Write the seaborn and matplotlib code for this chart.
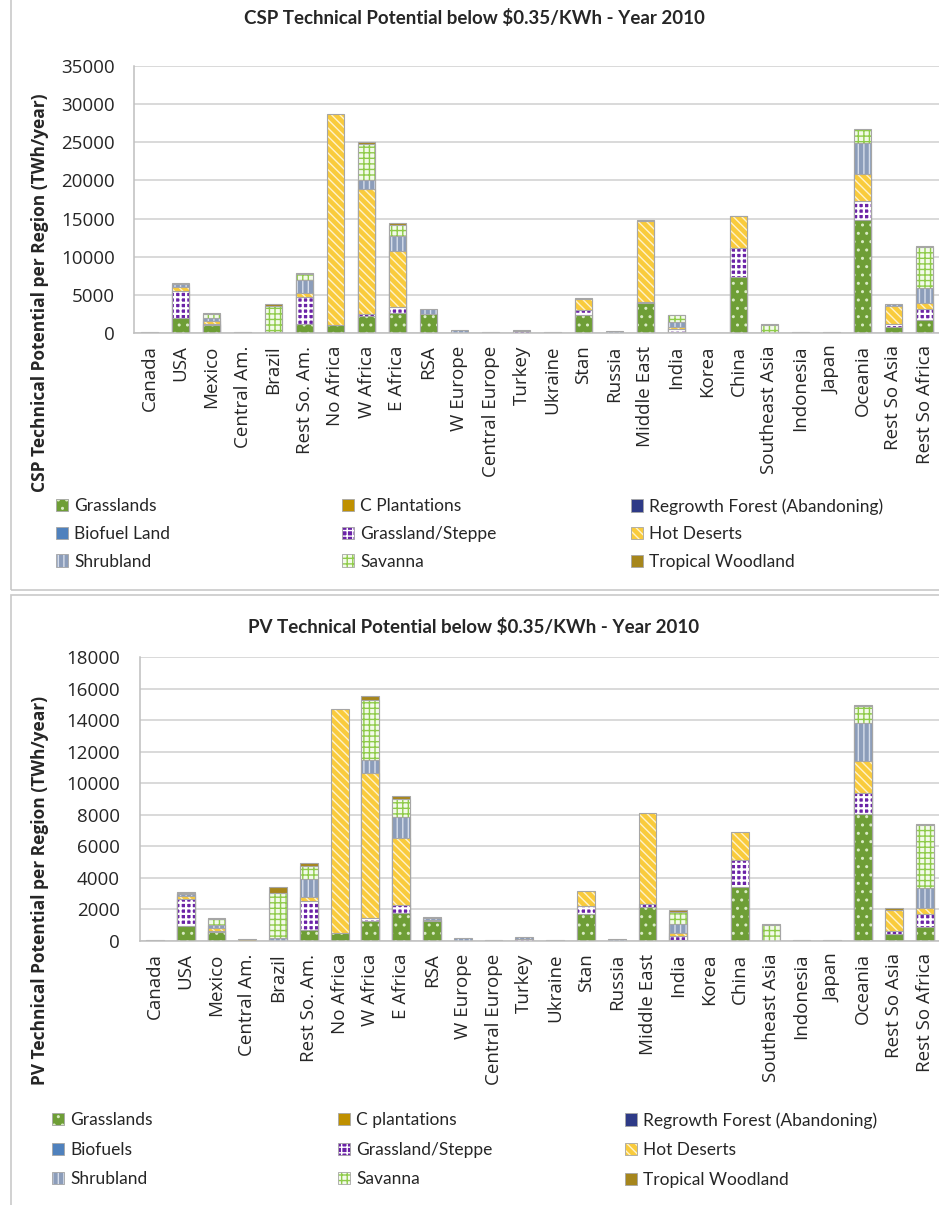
import matplotlib
matplotlib.use("Agg")
import matplotlib.pyplot as plt
import matplotlib.patches as mpatches
from matplotlib.colors import to_rgba
import seaborn as sns

# regions on the x axis
regions = ["Canada", "USA", "Mexico", "Central Am.", "Brazil", "Rest So. Am.", "No Africa",
           "W Africa", "E Africa", "RSA", "W Europe", "Central Europe", "Turkey", "Ukraine",
           "Stan", "Russia", "Middle East", "India", "Korea", "China", "Southeast Asia",
           "Indonesia", "Japan", "Oceania", "Rest So Asia", "Rest So Africa"]

csp_labels = ["Grasslands", "C Plantations", "Regrowth Forest (Abandoning)", "Biofuel Land",
              "Grassland/Steppe", "Hot Deserts", "Shrubland", "Savanna", "Tropical Woodland"]
pv_labels = ["Grasslands", "C plantations", "Regrowth Forest (Abandoning)", "Biofuels",
             "Grassland/Steppe", "Hot Deserts", "Shrubland", "Savanna", "Tropical Woodland"]

# CSP technical potential (TWh/year)
csp_grasslands = [0, 1950, 1000, 0, 0, 1200, 1000, 2200, 2600, 2550, 0, 0, 0, 0, 2400, 0, 3900, 100, 0, 7400, 0, 0, 0, 14800, 780, 1700]
csp_c_plant    = [0] * 26
csp_regrowth   = [0, 0, 0, 0, 0, 0, 0, 0, 0, 0, 0, 0, 0, 0, 0, 0, 0, 0, 0, 0, 0, 0, 100, 0, 0, 0]
csp_biofuel    = [0] * 26
csp_steppe     = [0, 3600, 150, 0, 0, 3500, 0, 300, 750, 0, 0, 0, 300, 0, 650, 0, 200, 450, 0, 3800, 0, 0, 0, 2450, 450, 1400]
csp_deserts    = [0, 450, 450, 0, 0, 480, 27700, 16350, 7450, 0, 0, 0, 0, 0, 1450, 0, 10600, 300, 0, 4150, 0, 0, 0, 3600, 2250, 800]
csp_shrub      = [80, 400, 350, 150, 100, 1750, 0, 1200, 1900, 600, 350, 100, 150, 80, 150, 200, 50, 600, 0, 0, 0, 80, 0, 4100, 300, 2050]
csp_savanna    = [0, 100, 600, 0, 3450, 850, 0, 4700, 1400, 0, 0, 0, 0, 0, 0, 0, 0, 900, 0, 0, 1100, 0, 0, 1800, 0, 5350]
csp_tropical   = [0, 0, 100, 0, 200, 150, 0, 230, 260, 0, 0, 0, 0, 0, 0, 0, 0, 50, 0, 50, 80, 0, 0, 0, 0, 130]

# PV technical potential (TWh/year)
pv_grasslands = [0, 950, 550, 0, 0, 700, 530, 1270, 1790, 1250, 0, 0, 0, 0, 1710, 0, 2170, 50, 0, 3440, 0, 0, 0, 8020, 420, 910]
pv_c_plant    = [0] * 26
pv_regrowth   = [0, 0, 0, 0, 0, 0, 0, 0, 0, 0, 0, 0, 0, 0, 0, 0, 0, 0, 0, 0, 0, 0, 50, 0, 0, 0]
pv_biofuel    = [0] * 26
pv_steppe     = [0, 1710, 80, 0, 0, 1830, 0, 160, 470, 100, 0, 0, 150, 0, 530, 0, 150, 270, 0, 1690, 0, 0, 0, 1330, 210, 780]
pv_deserts    = [0, 190, 200, 0, 0, 270, 14200, 9230, 4240, 0, 0, 0, 0, 0, 930, 0, 5800, 210, 0, 1810, 0, 0, 0, 2040, 1330, 380]
pv_shrub      = [60, 125, 200, 0, 170, 1100, 0, 800, 1370, 100, 210, 60, 100, 60, 0, 150, 0, 530, 0, 0, 0, 0, 0, 2430, 0, 1260]
pv_savanna    = [0, 50, 350, 0, 2890, 850, 0, 3800, 1160, 0, 0, 0, 0, 0, 0, 0, 0, 780, 0, 0, 1010, 0, 0, 1060, 0, 4010]
pv_tropical   = [0, 60, 100, 100, 380, 170, 0, 270, 130, 50, 0, 0, 0, 0, 0, 0, 0, 100, 0, 0, 80, 80, 0, 100, 150, 90]

csp_layers = [csp_grasslands, csp_c_plant, csp_regrowth, csp_biofuel, csp_steppe,
              csp_deserts, csp_shrub, csp_savanna, csp_tropical]
pv_layers = [pv_grasslands, pv_c_plant, pv_regrowth, pv_biofuel, pv_steppe,
             pv_deserts, pv_shrub, pv_savanna, pv_tropical]

# (face, hatch, hatch colour, hatch width) per layer, Excel-like patterns
styles = [
    ("#6E9E36", "..", "#D9EBC4", 1.0),
    ("#BF9000", "", None, 1.0),
    ("#2E3A87", "", None, 1.0),
    ("#4F81BD", "", None, 1.0),
    ("#6A22A6", "+++", "#FFFFFF", 1.6),
    ("#F9CB3C", "\\\\\\\\", "#FFF3CC", 1.0),
    ("#8C9DBA", "|||", "#D6DDEA", 1.0),
    ("#F3FAEA", "+++", "#8FCB4A", 1.0),
    ("#A6861C", "", None, 1.0),
]
EDGE = "#A6A6A6"

sns.set_style("white")
plt.rcParams["font.family"] = ["Open Sans", "DejaVu Sans"]


def style_patch(p, face, hatch, hcol, hlw):
    p.set_facecolor(face)
    p.set_edgecolor(EDGE)
    p.set_linewidth(0.8)
    if hatch:
        p.set_hatch(hatch)
        try:
            p.set_hatchcolor(hcol)
        except AttributeError:
            p._hatch_color = to_rgba(hcol)
        try:
            p.set_hatch_linewidth(hlw)
        except AttributeError:
            pass


def draw_panel(ax, layers, ymax, step):
    # stack by drawing cumulative totals from the top layer down
    cums = []
    run = [0] * len(regions)
    for lay in layers:
        run = [a + b for a, b in zip(run, lay)]
        cums.append(run)
    for k in range(len(layers) - 1, -1, -1):
        n0 = len(ax.patches)
        sns.barplot(x=regions, y=cums[k], color=styles[k][0], saturation=1,
                    width=0.58, errorbar=None, ax=ax)
        for i, p in enumerate(ax.patches[n0:]):
            style_patch(p, *styles[k])
            if layers[k][i] == 0:
                p.set_visible(False)
    ax.set_ylim(0, ymax)
    ax.set_xlim(-0.5, len(regions) - 0.5)
    ax.set_yticks(range(0, ymax + 1, step))
    ax.yaxis.grid(True, color="#CFCFCF", linewidth=1.1)
    ax.set_axisbelow(True)
    ax.set_xlabel("")
    ax.set_ylabel("")
    for s in ["top", "right"]:
        ax.spines[s].set_visible(False)
    for s in ["left", "bottom"]:
        ax.spines[s].set_color("#BFBFBF")
        ax.spines[s].set_linewidth(1.1)
    ax.tick_params(axis="y", length=0, pad=14, labelsize=13.5)
    ax.tick_params(axis="x", length=0, pad=9, labelsize=13.5, rotation=90)
    for t in ax.get_xticklabels():
        t.set_va("top")


def add_legend(fig, labels, xs, ytop, spacing):
    cols = [[0, 3, 6], [1, 4, 7], [2, 5, 8]]
    for x, idx in zip(xs, cols):
        handles = []
        for k in idx:
            face, hatch, hcol, hlw = styles[k]
            h = mpatches.Patch(facecolor=face, edgecolor=EDGE, linewidth=0.6,
                               hatch=hatch if hatch else None, label=labels[k])
            if hatch:
                try:
                    h.set_hatchcolor(hcol)
                except AttributeError:
                    h._hatch_color = to_rgba(hcol)
            handles.append(h)
        fig.legend(handles=handles, loc="upper left",
                   bbox_to_anchor=(x / W, 1 - ytop / H), frameon=False,
                   prop={"family": "Lato", "size": 12.5}, borderpad=0,
                   borderaxespad=0, handlelength=0.7, handleheight=0.7,
                   handletextpad=0.35, labelspacing=spacing)


W, H = 939, 1205
fig = plt.figure(figsize=(W / 100, H / 100), dpi=100)

# top panel: CSP
ax1 = fig.add_axes([134 / W, 1 - 333 / H, 806 / W, 267 / H])
draw_panel(ax1, csp_layers, 35000, 5000)
fig.text(474 / W, 1 - 18 / H, "CSP Technical Potential below \\$0.35/KWh - Year 2010",
         ha="center", va="center", fontsize=13.5, fontweight="bold", family="Lato")
fig.text(40 / W, 1 - 293 / H, "CSP Technical Potential per Region (TWh/year)",
         rotation=90, ha="center", va="center", fontsize=12.5, fontweight="bold")
add_legend(fig, csp_labels, [56, 342, 631], 498, 0.68)

# bottom panel: PV
ax2 = fig.add_axes([139.5 / W, 1 - 941 / H, 800.5 / W, 284 / H])
draw_panel(ax2, pv_layers, 18000, 2000)
fig.text(474 / W, 1 - 627 / H, "PV Technical Potential below \\$0.35/KWh - Year 2010",
         ha="center", va="center", fontsize=13.5, fontweight="bold", family="Lato")
fig.text(40 / W, 1 - 890 / H, "PV Technical Potential per Region (TWh/year)",
         rotation=90, ha="center", va="center", fontsize=12.5, fontweight="bold")
add_legend(fig, pv_labels, [52, 338, 625], 1112, 0.79)

# chart-area frames
fig.add_artist(mpatches.Rectangle((10.7 / W, 1 - 590 / H), 1.0, 1.0, transform=fig.transFigure,
                                  fill=False, edgecolor="#C9C9C9", linewidth=1.2))
fig.add_artist(mpatches.Rectangle((11 / W, -1.0), 1.0, 1.0 + (1 - 595 / H), transform=fig.transFigure,
                                  fill=False, edgecolor="#C9C9C9", linewidth=1.2))

fig.savefig("out.png", dpi=100)
